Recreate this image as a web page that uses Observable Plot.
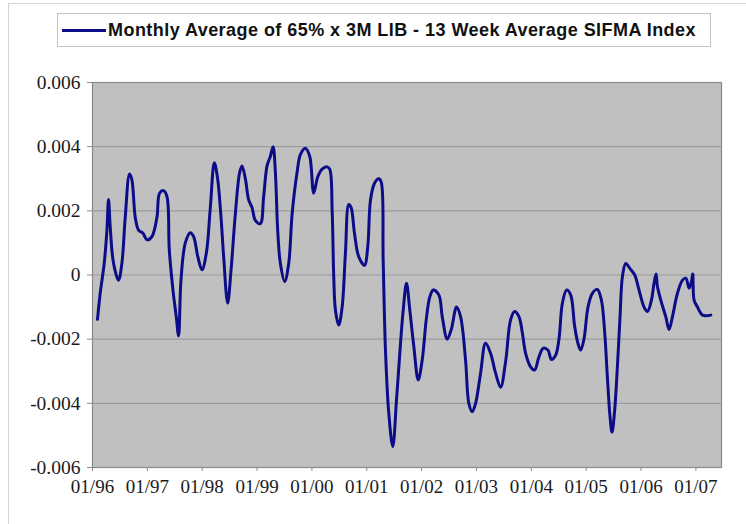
<!DOCTYPE html>
<html>
<head>
<meta charset="utf-8">
<script src="https://cdn.jsdelivr.net/npm/d3@7"></script>
<script src="https://cdn.jsdelivr.net/npm/@observablehq/plot@0.6"></script>
<style>
  html, body { margin: 0; padding: 0; background: #fff; }
  #wrap { position: relative; width: 746px; height: 524px; overflow: hidden; }
  #frame { position: absolute; left: 8px; top: 3px; width: 800px; height: 600px; border: 1px solid #d4d4d4; box-sizing: border-box; pointer-events: none; }
  #header { position: relative; height: 60px; }
  #legend { position: absolute; left: 57px; top: 13px; width: 654px; height: 34px; border: 1px solid #c4c4c4; box-sizing: border-box; background: #fff; display: flex; align-items: center; }
  #legend .swatch { display: inline-block; width: 44px; height: 3px; background: #0c0c88; margin-left: 4px; margin-right: 2px; }
  #legend .label { font-family: "Liberation Sans", Arial, sans-serif; font-weight: bold; font-size: 18px; color: #111; white-space: nowrap; letter-spacing: 0.45px; }
  #chart svg { display: block; }
</style>
</head>
<body>
<div id="wrap">
  <div id="header">
    <div id="legend"><span class="swatch"></span><span class="label" id="legendText"></span></div>
  </div>
  <div id="chart"></div>
  <div id="frame"></div>
</div>
<script>
const seriesName = "Monthly Average of 65% x 3M LIB - 13 Week Average SIFMA Index";

// time in decimal years
const years = [
  1996.091,1996.141,1996.214,1996.263,1996.292,1996.323,1996.383,1996.474,1996.536,1996.597,
  1996.675,1996.719,1996.779,1996.839,1996.920,1996.993,1997.084,1997.175,1997.223,1997.296,
  1997.358,1997.400,1997.467,1997.527,1997.569,1997.613,1997.692,1997.783,1997.843,1997.920,
  1997.996,1998.075,1998.148,1998.221,1998.281,1998.343,1998.391,1998.464,1998.526,1998.604,
  1998.683,1998.726,1998.787,1998.847,1998.909,1998.969,1999.060,1999.120,1999.182,1999.243,
  1999.292,1999.334,1999.376,1999.425,1999.504,1999.577,1999.639,1999.730,1999.790,1999.881,
  1999.960,2000.033,2000.106,2000.186,2000.277,2000.325,2000.369,2000.398,2000.429,2000.489,
  2000.551,2000.611,2000.672,2000.715,2000.776,2000.854,2000.958,2001.018,2001.068,2001.141,
  2001.219,2001.263,2001.299,2001.341,2001.401,2001.474,2001.542,2001.602,2001.664,2001.724,
  2001.785,2001.858,2001.938,2002.011,2002.084,2002.150,2002.212,2002.314,2002.376,2002.467,
  2002.540,2002.637,2002.710,2002.801,2002.861,2002.923,2002.984,2003.075,2003.166,2003.257,
  2003.349,2003.440,2003.531,2003.622,2003.695,2003.774,2003.836,2003.896,2003.987,2004.060,
  2004.139,2004.219,2004.303,2004.365,2004.443,2004.504,2004.566,2004.644,2004.717,2004.790,
  2004.850,2004.900,2004.960,2005.033,2005.113,2005.204,2005.277,2005.338,2005.387,2005.434,
  2005.471,2005.520,2005.569,2005.617,2005.661,2005.721,2005.799,2005.885,2005.964,2006.055,
  2006.117,2006.190,2006.237,2006.274,2006.299,2006.360,2006.451,2006.511,2006.573,2006.664,
  2006.756,2006.816,2006.876,2006.920,2006.943,2006.967,2007.029,2007.120,2007.272
];

const values = [
  -0.00138,-0.00056,0.00037,0.0014,0.00235,0.0015,0.00037,-0.00016,0.00037,0.0018,
  0.00315,0.00296,0.0018,0.0014,0.0013,0.0011,0.0012,0.0018,0.00255,0.00263,
  0.00244,0.00078,-0.00047,-0.0013,-0.0019,-0.00016,0.001,0.00132,0.0012,0.00057,
  0.00016,0.00068,0.0021,0.0035,0.003,0.0018,0.00057,-0.00088,0.00016,0.0019,
  0.0032,0.0034,0.003,0.00234,0.0021,0.0017,0.0016,0.00244,0.0034,0.0037,
  0.004,0.0032,0.0014,0.00036,-0.0002,0.00036,0.0019,0.0032,0.00375,0.00395,
  0.0037,0.00255,0.00306,0.0033,0.00337,0.0033,0.002,-0.00005,-0.0011,-0.00156,
  -0.001,0.00068,0.0022,0.0021,0.0013,0.00057,0.0003,0.00088,0.00234,0.00286,
  0.003,0.0029,0.00047,-0.00234,-0.0043,-0.00535,-0.0039,-0.00244,-0.0011,-0.00026,
  -0.0011,-0.00223,-0.00327,-0.00265,-0.0014,-0.00068,-0.00047,-0.00062,-0.0013,-0.002,
  -0.0017,-0.001,-0.0013,-0.00265,-0.004,-0.00426,-0.004,-0.00306,-0.00213,-0.00244,
  -0.00306,-0.0035,-0.0027,-0.0014,-0.00114,-0.0013,-0.0018,-0.00244,-0.00286,-0.00296,
  -0.00255,-0.00228,-0.00234,-0.00263,-0.0025,-0.002,-0.00088,-0.00047,-0.00062,-0.0016,
  -0.00213,-0.00234,-0.002,-0.001,-0.00057,-0.00045,-0.00078,-0.0018,-0.0032,-0.0044,
  -0.0049,-0.0042,-0.00286,-0.0013,-0.00005,0.00036,0.0002,0.0,-0.00047,-0.001,
  -0.00114,-0.00078,-0.00026,0.00003,-0.00036,-0.00078,-0.0013,-0.0017,-0.0013,-0.00057,
  -0.00016,-0.0001,-0.00041,-0.0002,0.00003,-0.00078,-0.001,-0.00125,-0.00125
];

const xTickValues = [1996,1997,1998,1999,2000,2001,2002,2003,2004,2005,2006,2007];
const xTickLabels = ["01/96","01/97","01/98","01/99","01/00","01/01","01/02","01/03","01/04","01/05","01/06","01/07"];
const yTickValues = [-0.006,-0.004,-0.002,0,0.002,0.004,0.006];
const yTickLabels = ["-0.006","-0.004","-0.002","0","0.002","0.004","0.006"];

document.getElementById("legendText").textContent = seriesName;

const data = years.map((t, i) => ({t, v: values[i]}));

const chart = Plot.plot({
  width: 746,
  height: 464,
  marginLeft: 92,
  marginRight: 25,
  marginTop: 22,
  marginBottom: 57,
  style: {fontFamily: "'Liberation Serif', 'Times New Roman', serif", fontSize: "19px", color: "#1a1a1a", background: "transparent", overflow: "visible"},
  x: {domain: [1996, 2007.467], label: null},
  y: {domain: [-0.006, 0.006], label: null},
  marks: [
    Plot.frame({fill: "#c0c0c0", stroke: null}),
    Plot.gridY(yTickValues, {stroke: "#9c9c9c", strokeOpacity: 1, strokeWidth: 1.2}),
    Plot.frame({stroke: "#8a8a8a", strokeWidth: 1.2}),
    Plot.axisX(xTickValues, {tickFormat: d => xTickLabels[xTickValues.indexOf(d)], tickSize: 4, tickPadding: 8, stroke: "#8a8a8a", fill: "#1a1a1a", fontSize: 19, label: null}),
    Plot.axisY(yTickValues, {tickFormat: d => yTickLabels[yTickValues.indexOf(d)], tickSize: 5, tickPadding: 7, stroke: "#8a8a8a", fill: "#1a1a1a", fontSize: 19.5, label: null}),
    Plot.line(data, {x: "t", y: "v", stroke: "#0c0c88", strokeWidth: 3, strokeLinejoin: "round", strokeLinecap: "round", curve: "catmull-rom"})
  ]
});
document.getElementById("chart").appendChild(chart);
</script>
</body>
</html>
